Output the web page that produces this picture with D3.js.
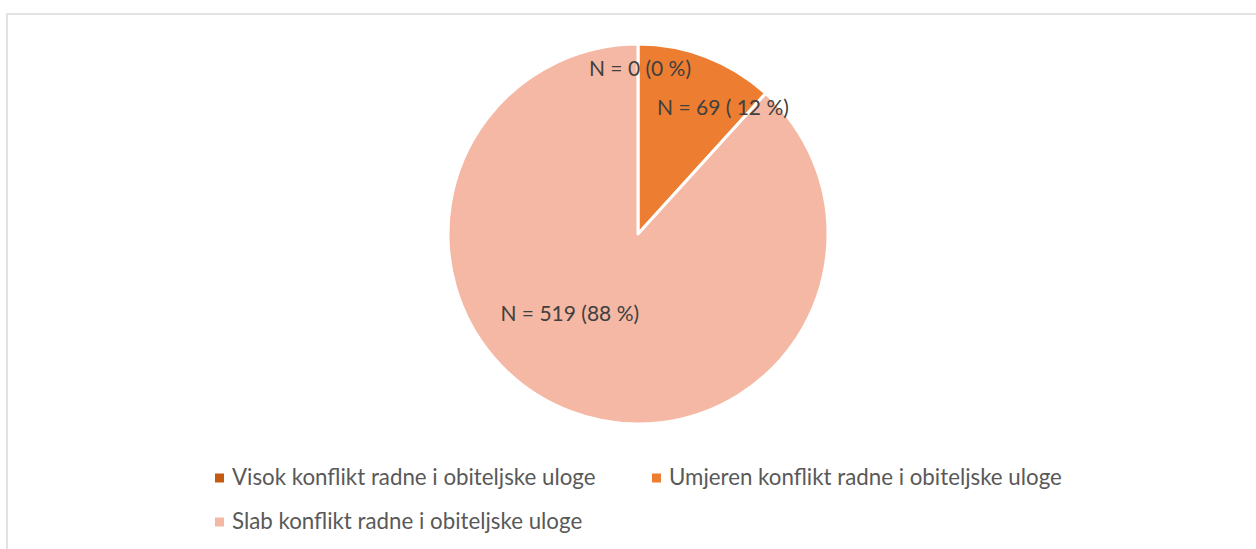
<!DOCTYPE html>
<html lang="hr">
<head>
<meta charset="UTF-8">
<title>Konflikt radne i obiteljske uloge</title>
<script src="https://d3js.org/d3.v7.min.js"></script>
<style>
  body { margin: 0; background: #fff; }
  text { font-family: Lato, "Open Sans", sans-serif; }
</style>
</head>
<body>
<div id="chart"></div>
<script>
// data
var categories = ["Visok konflikt radne i obiteljske uloge",
                  "Umjeren konflikt radne i obiteljske uloge",
                  "Slab konflikt radne i obiteljske uloge"];
var counts = [0, 69, 519];
var labels = ["N = 0 (0 %)", "N = 69 ( 12 %)", "N = 519 (88 %)"];
var colors = ["#C55A11", "#ED7D31", "#F4B8A4"];

var width = 1256, height = 549;
var cx = 638, cy = 234, radius = 190;

var svg = d3.select("#chart").append("svg")
    .attr("width", width)
    .attr("height", height);

// chart frame
svg.append("rect")
    .attr("x", 7).attr("y", 14)
    .attr("width", width + 20).attr("height", height + 20)
    .attr("fill", "none")
    .attr("stroke", "#d9d9d9")
    .attr("stroke-width", 1.5);

var data = categories.map(function(c, i) {
    return {name: c, value: counts[i], label: labels[i], color: colors[i]};
});

var pie = d3.pie().sort(null).value(function(d) { return d.value; });
var arc = d3.arc().innerRadius(0).outerRadius(radius);

var g = svg.append("g").attr("transform", "translate(" + cx + "," + cy + ")");

var arcs = pie(data);

g.selectAll("path")
    .data(arcs)
    .enter().append("path")
    .attr("d", arc)
    .attr("fill", function(d) { return d.data.color; })
    .attr("stroke", "#fff")
    .attr("stroke-width", 3)
    .attr("stroke-linejoin", "round");

// label placement (best-fit style nudges from centroid)
var labelArc = d3.arc().innerRadius(0).outerRadius(radius * 1.4);
var nudges = [[2, 0], [37, 0], [-34, -7]];

function labelPos(d, i) {
    var c = i === 2 ? arc.centroid(d) : labelArc.centroid(d);
    if (i === 0) c = [0, -radius * 0.86];
    return [c[0] + nudges[i][0], c[1] + nudges[i][1]];
}

g.selectAll("text.lbl")
    .data(arcs)
    .enter().append("text")
    .attr("class", "lbl")
    .attr("x", function(d, i) { return labelPos(d, i)[0]; })
    .attr("y", function(d, i) { return labelPos(d, i)[1]; })
    .attr("text-anchor", "middle")
    .attr("dominant-baseline", "middle")
    .attr("fill", "#404040")
    .style("font-size", "21px")
    .text(function(d) { return d.data.label; });

// legend
var legendPos = [[215, 478], [652, 478], [215, 522]];
var legend = svg.selectAll("g.legend")
    .data(data)
    .enter().append("g")
    .attr("class", "legend")
    .attr("transform", function(d, i) {
        return "translate(" + legendPos[i][0] + "," + legendPos[i][1] + ")";
    });

legend.append("rect")
    .attr("x", 0).attr("y", -4.5)
    .attr("width", 9).attr("height", 9)
    .attr("fill", function(d) { return d.color; });

legend.append("text")
    .attr("x", 17)
    .attr("y", 1)
    .attr("dominant-baseline", "middle")
    .attr("fill", "#595959")
    .style("font-size", "22.3px")
    .text(function(d) { return d.name; });
</script>
</body>
</html>
